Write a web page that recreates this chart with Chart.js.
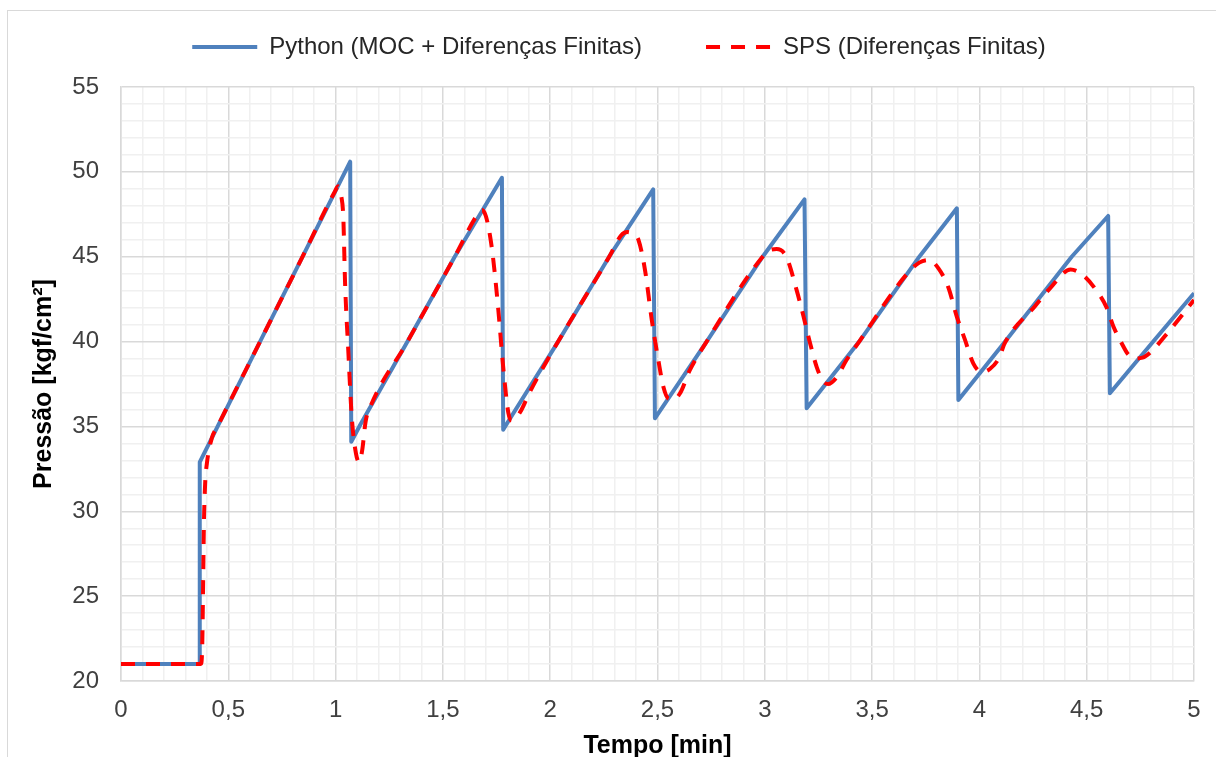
<!DOCTYPE html>
<html lang="pt">
<head>
    <meta charset="UTF-8">
    <title>Pressão x Tempo</title>
    <script src="https://cdn.jsdelivr.net/npm/chart.js"></script>
    <style>
        body { margin: 0; overflow: hidden; background: #fff; }
        canvas { display: block; }
    </style>
</head>
<body>
    <canvas id="pressChart" width="1216" height="780"></canvas>

    <script>
        // Python (MOC + Diferenças Finitas)
        const pyTime = [0, 0.365, 0.367, 0.648, 0.846, 1.068, 1.073, 1.115, 1.335, 1.555, 1.775,
            1.781, 1.80, 2.037, 2.275, 2.48, 2.488, 2.729, 2.99, 3.185, 3.195, 3.44, 3.72, 3.895,
            3.902, 4.12, 4.43, 4.60, 4.608, 4.81, 5.0];
        const pyPress = [21, 21, 32.9, 40, 45, 50.6, 34.1, 35.1, 40, 45, 49.65,
            34.8, 35.2, 40, 45, 48.97, 35.48, 40, 45, 48.38, 36.07, 40, 45, 47.85,
            36.56, 40, 45, 47.4, 36.95, 40, 42.85];

        // SPS (Diferenças Finitas)
        const spsTime = [0, 0.372, 0.378, 0.382, 0.386, 0.392, 0.40, 0.423, 0.45, 0.648, 0.846, 0.995,
            1.012, 1.026, 1.036, 1.044, 1.059, 1.075, 1.095, 1.11, 1.124, 1.14, 1.16, 1.335, 1.555,
            1.662, 1.682, 1.70, 1.72, 1.735, 1.758, 1.781, 1.805, 1.82, 1.84, 1.867, 1.90, 2.037,
            2.275, 2.33, 2.36, 2.39, 2.411, 2.442, 2.473, 2.504, 2.527, 2.55, 2.575, 2.605, 2.65,
            2.729, 2.99, 3.025, 3.055, 3.10, 3.149, 3.18, 3.211, 3.242, 3.27, 3.295, 3.335, 3.38,
            3.44, 3.66, 3.72, 3.765, 3.81, 3.855, 3.894, 3.933, 3.972, 4.011, 4.05, 4.09, 4.12,
            4.26, 4.33, 4.425, 4.484, 4.546, 4.593, 4.624, 4.663, 4.69, 4.72, 4.76, 4.80, 4.87, 5.0];
        const spsPress = [21, 21, 21.8, 25, 29, 31.6, 32.8, 34.3, 35.0, 40, 45, 48.8,
            49.15, 48.6, 47.3, 43.5, 39.5, 35.6, 33.4, 32.9, 33.6, 35.3, 36.1, 40, 45,
            47.5, 47.75, 47.4, 46.2, 44.8, 41.9, 38.5, 35.8, 35.35, 35.5, 36.0, 36.9, 40,
            45, 46.25, 46.45, 46.3, 46.0, 44.2, 41.3, 38.9, 37.35, 36.65, 36.6, 36.95, 38.3,
            40, 45, 45.4, 45.45, 45.0, 43.0, 41.5, 39.9, 38.5, 37.7, 37.5, 37.9, 38.9,
            40, 43.95, 44.65, 44.8, 44.3, 43.2, 41.5, 40.1, 38.7, 38.2, 38.4, 39.0, 39.95,
            42.1, 43.15, 44.25, 43.9, 43.0, 42.0, 40.9, 39.9, 39.3, 39.0, 39.05, 39.4, 40.4, 42.45];

        const xTickStep = 0.5;
        const yTickStep = 5;

        const toPoints = (xs, ys) => xs.map((x, i) => ({x: x, y: ys[i]}));
        const isMajor = (v, step) => Math.abs(v / step - Math.round(v / step)) < 1e-6;

        const majorGrid = '#d9d9d9';
        const minorGrid = '#f0f0f0';
        const tickColor = '#404040';
        const fontFamily = '"Liberation Sans", Arial, sans-serif';

        const outerFrame = {
            id: 'outerFrame',
            beforeDraw(chart) {
                const ctx = chart.ctx;
                ctx.save();
                ctx.fillStyle = '#fff';
                ctx.fillRect(0, 0, chart.width, chart.height);
                ctx.strokeStyle = '#d9d9d9';
                ctx.lineWidth = 1;
                ctx.strokeRect(7.5, 10.5, 1300, 900);
                ctx.restore();
            }
        };

        // legend entries in dataset order, drawn with each line's own width and dash
        function legendLabels(chart) {
            const items = Chart.defaults.plugins.legend.labels.generateLabels(chart);
            items.forEach(item => {
                const ds = chart.data.datasets[item.datasetIndex];
                item.lineWidth = ds.borderWidth;
                item.lineDash = ds.borderDash || [];
                item.strokeStyle = ds.borderColor;
                item.fillStyle = ds.borderColor;
            });
            return items.sort((a, b) => a.datasetIndex - b.datasetIndex);
        }

        const ctx = document.getElementById('pressChart').getContext('2d');
        new Chart(ctx, {
            type: 'line',
            data: {
                datasets: [{
                    label: 'Python (MOC + Diferenças Finitas)',
                    data: toPoints(pyTime, pyPress),
                    borderColor: '#4f81bd',
                    backgroundColor: '#4f81bd',
                    borderWidth: 4,
                    tension: 0,
                    order: 1
                }, {
                    label: 'SPS (Diferenças Finitas)',
                    data: toPoints(spsTime, spsPress),
                    borderColor: '#ff0000',
                    backgroundColor: '#ff0000',
                    borderWidth: 4,
                    borderDash: [14, 11],
                    cubicInterpolationMode: 'monotone',
                    order: 0
                }]
            },
            options: {
                responsive: false,
                animation: false,
                events: [],
                elements: {
                    point: { radius: 0, hitRadius: 0 },
                    line: { fill: false, borderJoinStyle: 'round' }
                },
                layout: {
                    padding: { top: -29, left: 44, right: 22, bottom: 0 }
                },
                plugins: {
                    tooltip: { enabled: false },
                    legend: {
                        position: 'top',
                        align: 'center',
                        weight: 3000,
                        labels: {
                            usePointStyle: true,
                            pointStyle: 'line',
                            pointStyleWidth: 65,
                            padding: 64,
                            color: '#262626',
                            font: { family: fontFamily, size: 24 },
                            generateLabels: legendLabels
                        }
                    },
                    subtitle: {
                        display: true,
                        text: '',
                        font: { size: 10, lineHeight: 1 },
                        padding: { top: 4, bottom: 4 }
                    }
                },
                scales: {
                    x: {
                        type: 'linear',
                        min: 0,
                        max: 5,
                        afterFit: scale => { scale.height = 99; },
                        ticks: {
                            stepSize: 0.1,
                            maxTicksLimit: 100,
                            autoSkip: false,
                            maxRotation: 0,
                            minRotation: 0,
                            padding: 15,
                            color: tickColor,
                            font: { family: fontFamily, size: 24 },
                            callback: v => isMajor(v, xTickStep) ? String(Math.round(v * 10) / 10).replace('.', ',') : ''
                        },
                        grid: {
                            drawTicks: false,
                            color: c => (c.tick && isMajor(c.tick.value, xTickStep)) ? majorGrid : minorGrid,
                            lineWidth: 1.5
                        },
                        border: { color: majorGrid, width: 1.5 },
                        title: {
                            display: true,
                            text: 'Tempo [min]',
                            color: '#000',
                            font: { family: fontFamily, size: 25, weight: 'bold' },
                            padding: { top: 0, bottom: 19 }
                        }
                    },
                    y: {
                        type: 'linear',
                        min: 20,
                        max: 55,
                        afterFit: scale => { scale.width = 77; },
                        ticks: {
                            stepSize: 1,
                            maxTicksLimit: 100,
                            autoSkip: false,
                            padding: 22,
                            color: tickColor,
                            font: { family: fontFamily, size: 24 },
                            callback: v => isMajor(v, yTickStep) ? String(v) : ''
                        },
                        grid: {
                            drawTicks: false,
                            color: c => (c.tick && isMajor(c.tick.value, yTickStep)) ? majorGrid : minorGrid,
                            lineWidth: 1.5
                        },
                        border: { color: majorGrid, width: 1.5 },
                        title: {
                            display: true,
                            text: 'Pressão [kgf/cm²]',
                            color: '#000',
                            font: { family: fontFamily, size: 25, weight: 'bold' },
                            padding: { top: -15, bottom: 0 }
                        }
                    }
                }
            },
            plugins: [outerFrame]
        });
    </script>
</body>
</html>
